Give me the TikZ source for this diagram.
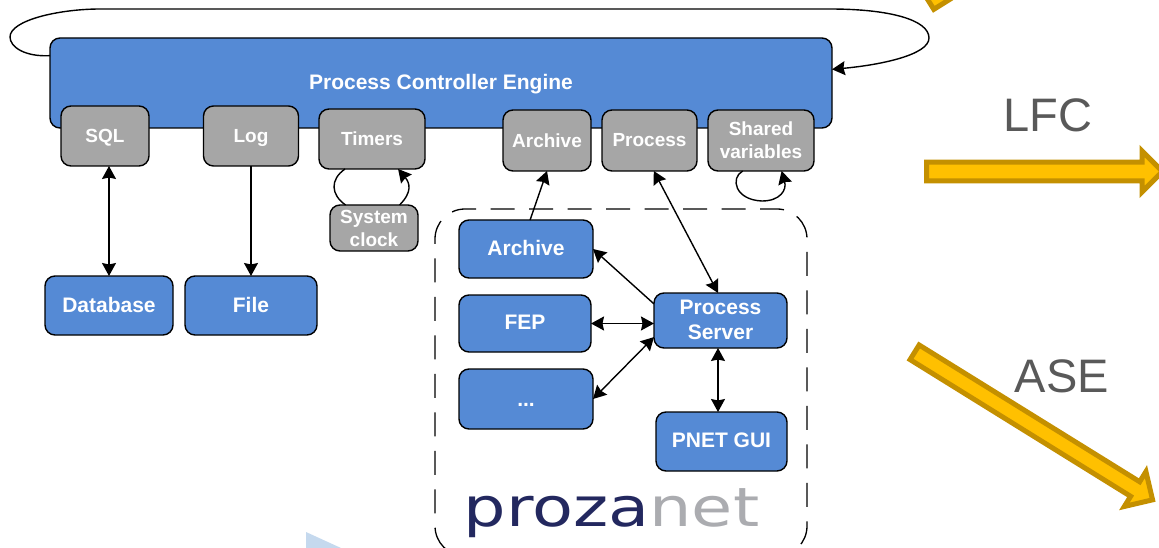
\documentclass[tikz,border=0pt]{standalone}
\usepackage{fontspec}
\setmainfont{Liberation Sans}
\newfontfamily\logofont{DejaVu Sans}
\usetikzlibrary{arrows.meta,shapes.arrows}
\definecolor{pcblue}{HTML}{558AD5}
\definecolor{pcgray}{HTML}{A6A6A6}
\definecolor{pcgold}{HTML}{C49000}
\definecolor{pcamber}{HTML}{FFC000}
\definecolor{pcnavy}{HTML}{23285F}
\definecolor{pcsilver}{HTML}{ABACB0}
\definecolor{pcpale}{HTML}{C5D9EE}

\begin{document}
\begin{tikzpicture}[x=1pt,y=-1pt,
      >={Stealth[length=13pt,width=14pt,inset=1.5pt]},
      conn/.style={line width=1.4pt},
      box/.style={draw=black,line width=1.4pt,rounded corners=10pt,text=white,
                  font=\fontsize{21}{25}\selectfont\bfseries,align=center,
                  inner sep=0pt,outer sep=0pt},
      bluebox/.style={box,fill=pcblue,text depth=2pt},
      graybox/.style={box,fill=pcgray,font=\fontsize{19}{23}\selectfont\bfseries},
      goldarrow/.style={single arrow,draw=pcgold,fill=pcamber,line width=5pt,
                        single arrow head extend=9pt,inner xsep=0pt,inner ysep=5pt,outer sep=0pt,
                        minimum width=41pt,anchor=tail},
      biglabel/.style={text=black!65,font=\fontsize{47}{50}\selectfont}
     ]
\clip (0,0) rectangle (1159,548);

\fill[pcpale] (306,532) -- (341,548) -- (306,548) -- cycle;

\node[goldarrow,minimum height=120pt,rotate=122] (upperarrow) at (941.7,4.4) {};
\node[goldarrow,minimum height=236pt] (lfcarrow) at (926.5,171.5) {};
\node[goldarrow,minimum height=280pt,rotate=-31.8,inner ysep=4pt] (asearrow) at (914.6,352.3) {};
\node[biglabel] (lfc) at (1048,115) {LFC};
\node[biglabel] (ase) at (1062,376) {ASE};

\node[bluebox,minimum width=782pt,minimum height=90pt] (engine) at (441,83) {};
\node[text=white,text depth=0pt,font=\fontsize{21}{25}\selectfont\bfseries] (enginetext) at (441,82) {Process Controller Engine};

\node[graybox,text depth=0pt,minimum width=88pt,minimum height=60pt] (sql) at (105,136) {SQL};
\node[graybox,text depth=0pt,minimum width=95pt,minimum height=60pt] (log) at (251,136) {Log};
\node[graybox,minimum width=106pt,minimum height=60pt] (timers) at (372,139) {Timers};
\node[graybox,minimum width=88pt,minimum height=46pt] (clock) at (374,228) {System\\clock};
\node[graybox,minimum width=88pt,minimum height=61pt] (archivegate) at (547,140.5) {Archive};
\node[graybox,minimum width=95pt,minimum height=61pt] (processgate) at (649.5,140.5) {Process};
\node[graybox,minimum width=106pt,minimum height=61pt] (shared) at (761,140.5) {Shared\\variables};

\node[bluebox,minimum width=128pt,minimum height=59pt] (database) at (109,305.5) {Database};
\node[bluebox,minimum width=132pt,minimum height=59pt] (file) at (251,305.5) {File};

\draw[dash pattern=on 24pt off 14.5pt,dash phase=13pt,line width=1.3pt,rounded corners=30pt]
  (465,209) -- (807,209) -- (807,556) -- (435,556) -- (435,209) -- (465,209);
\node[bluebox,minimum width=134pt,minimum height=58pt] (archive) at (526,249) {Archive};
\node[bluebox,minimum width=132pt,minimum height=57pt] (fep) at (525,323.5) {FEP};
\node[bluebox,text height=15pt,text depth=0pt,minimum width=134pt,minimum height=60pt] (dots) at (526,399) {...};
\node[bluebox,minimum width=133pt,minimum height=55pt] (server) at (720.5,320.5) {Process\\Server};
\node[bluebox,minimum width=131pt,minimum height=59pt] (gui) at (721.5,441.5) {PNET GUI};

\node[inner sep=0pt,anchor=base,font=\fontsize{54}{54}\logofont] (logo) at (611.5,526)
  {\scalebox{1.24}[1]{\textcolor{pcnavy}{proza}\textcolor{pcsilver}{net}}};

\draw[conn,->] (engine.176.9) .. controls (25,57) and (10,47) .. (10,37)
  .. controls (10,20) and (60,9) .. (100,9) -- (830,9)
  .. controls (890,9) and (929,20) .. (929,38)
  .. controls (929,55) and (880,65) .. (engine.2.3);
\draw[conn,<->] (database.north |- sql.south) -- (database.north);
\draw[conn,->] (log.south) -- (file.north);
\draw[conn] (timers.228) to[out=215,in=145,looseness=1.3] (clock.141.6);
\draw[conn,->] (clock.42.6) to[out=45,in=-50,looseness=1.3] (timers.311);
\draw[conn,->] (shared.239.5) .. controls (730,178) and (735,200) .. (762,201)
  .. controls (780,201) and (787,190) .. (shared.304.5);
\draw[conn,->] (archive.82) -- (archivegate.south);
\draw[conn,<->] (processgate.278.4) -- ([xshift=-2.5pt]server.north);
\draw[conn,->] (server.166) -- (archive.east);
\draw[conn,<->] (fep.east) -- (fep.east -| server.west);
\draw[conn,<->] (server.194) -- (dots.east);
\draw[conn,<->] ([xshift=-2.5pt]server.south) -- ([xshift=-3.5pt]gui.north);
\end{tikzpicture}
\end{document}
